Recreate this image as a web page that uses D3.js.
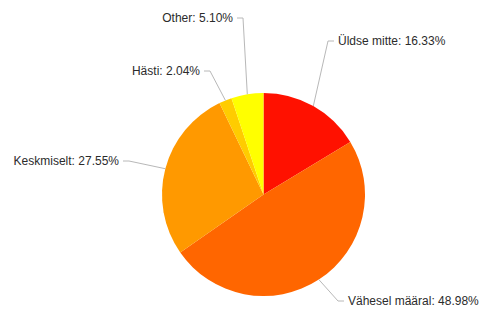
<!DOCTYPE html>
<html><head><meta charset="utf-8">
<script src="https://cdn.jsdelivr.net/npm/d3@7"></script>
<style>html,body{margin:0;padding:0;background:#fff;}svg{display:block;}</style>
</head><body>
<svg id="chart" width="483" height="314"></svg>
<script>
// Data
const categories = ["Üldse mitte", "Vähesel määral", "Keskmiselt", "Hästi", "Other"];
const values = [16.33, 48.98, 27.55, 2.04, 5.10];
const colors = ["#ff1100", "#ff6600", "#ff9900", "#ffcc00", "#ffff00"];

// Label layout (annotation placement): side and label y
const labelSide = ["right", "right", "left", "left", "left"];
const labelY = [41, 301, 161, 71, 18];
const labelX = [338, 348, 119, 200, 233];

const W = 483, H = 314;
const cx = 263.5, cy = 194.5, r = 101.5;
const svg = d3.select("#chart");
const g = svg.append("g").attr("transform", `translate(${cx},${cy})`);

const pie = d3.pie().sort(null).value(d => d)(values);
const arc = d3.arc().innerRadius(0).outerRadius(r);

g.selectAll("path.slice").data(pie).join("path")
  .attr("class", "slice")
  .attr("d", arc)
  .attr("fill", (d, i) => colors[i]);

const fmt = d3.format(".2f");
pie.forEach((d, i) => {
  const a = (d.startAngle + d.endAngle) / 2;
  const ex = cx + r * Math.sin(a), ey = cy - r * Math.cos(a);
  const right = labelSide[i] === "right";
  const lx = labelX[i], ly = labelY[i];
  const elbowX = right ? lx - 10 : lx + 10;
  const pts = [[ex, ey], [elbowX, ly], [right ? lx - 4 : lx + 4, ly]];
  svg.append("path")
    .attr("d", d3.line()(pts))
    .attr("fill", "none")
    .attr("stroke", "#b8b8b8")
    .attr("stroke-width", 1);
  svg.append("text")
    .attr("x", lx).attr("y", ly)
    .attr("dy", "0.35em")
    .attr("text-anchor", right ? "start" : "end")
    .attr("font-family", "'Liberation Sans', Arial, sans-serif")
    .attr("font-size", "12px")
    .attr("fill", "#2b2b2b")
    .text(`${categories[i]}: ${fmt(values[i])}%`);
});
</script>
</body></html>
